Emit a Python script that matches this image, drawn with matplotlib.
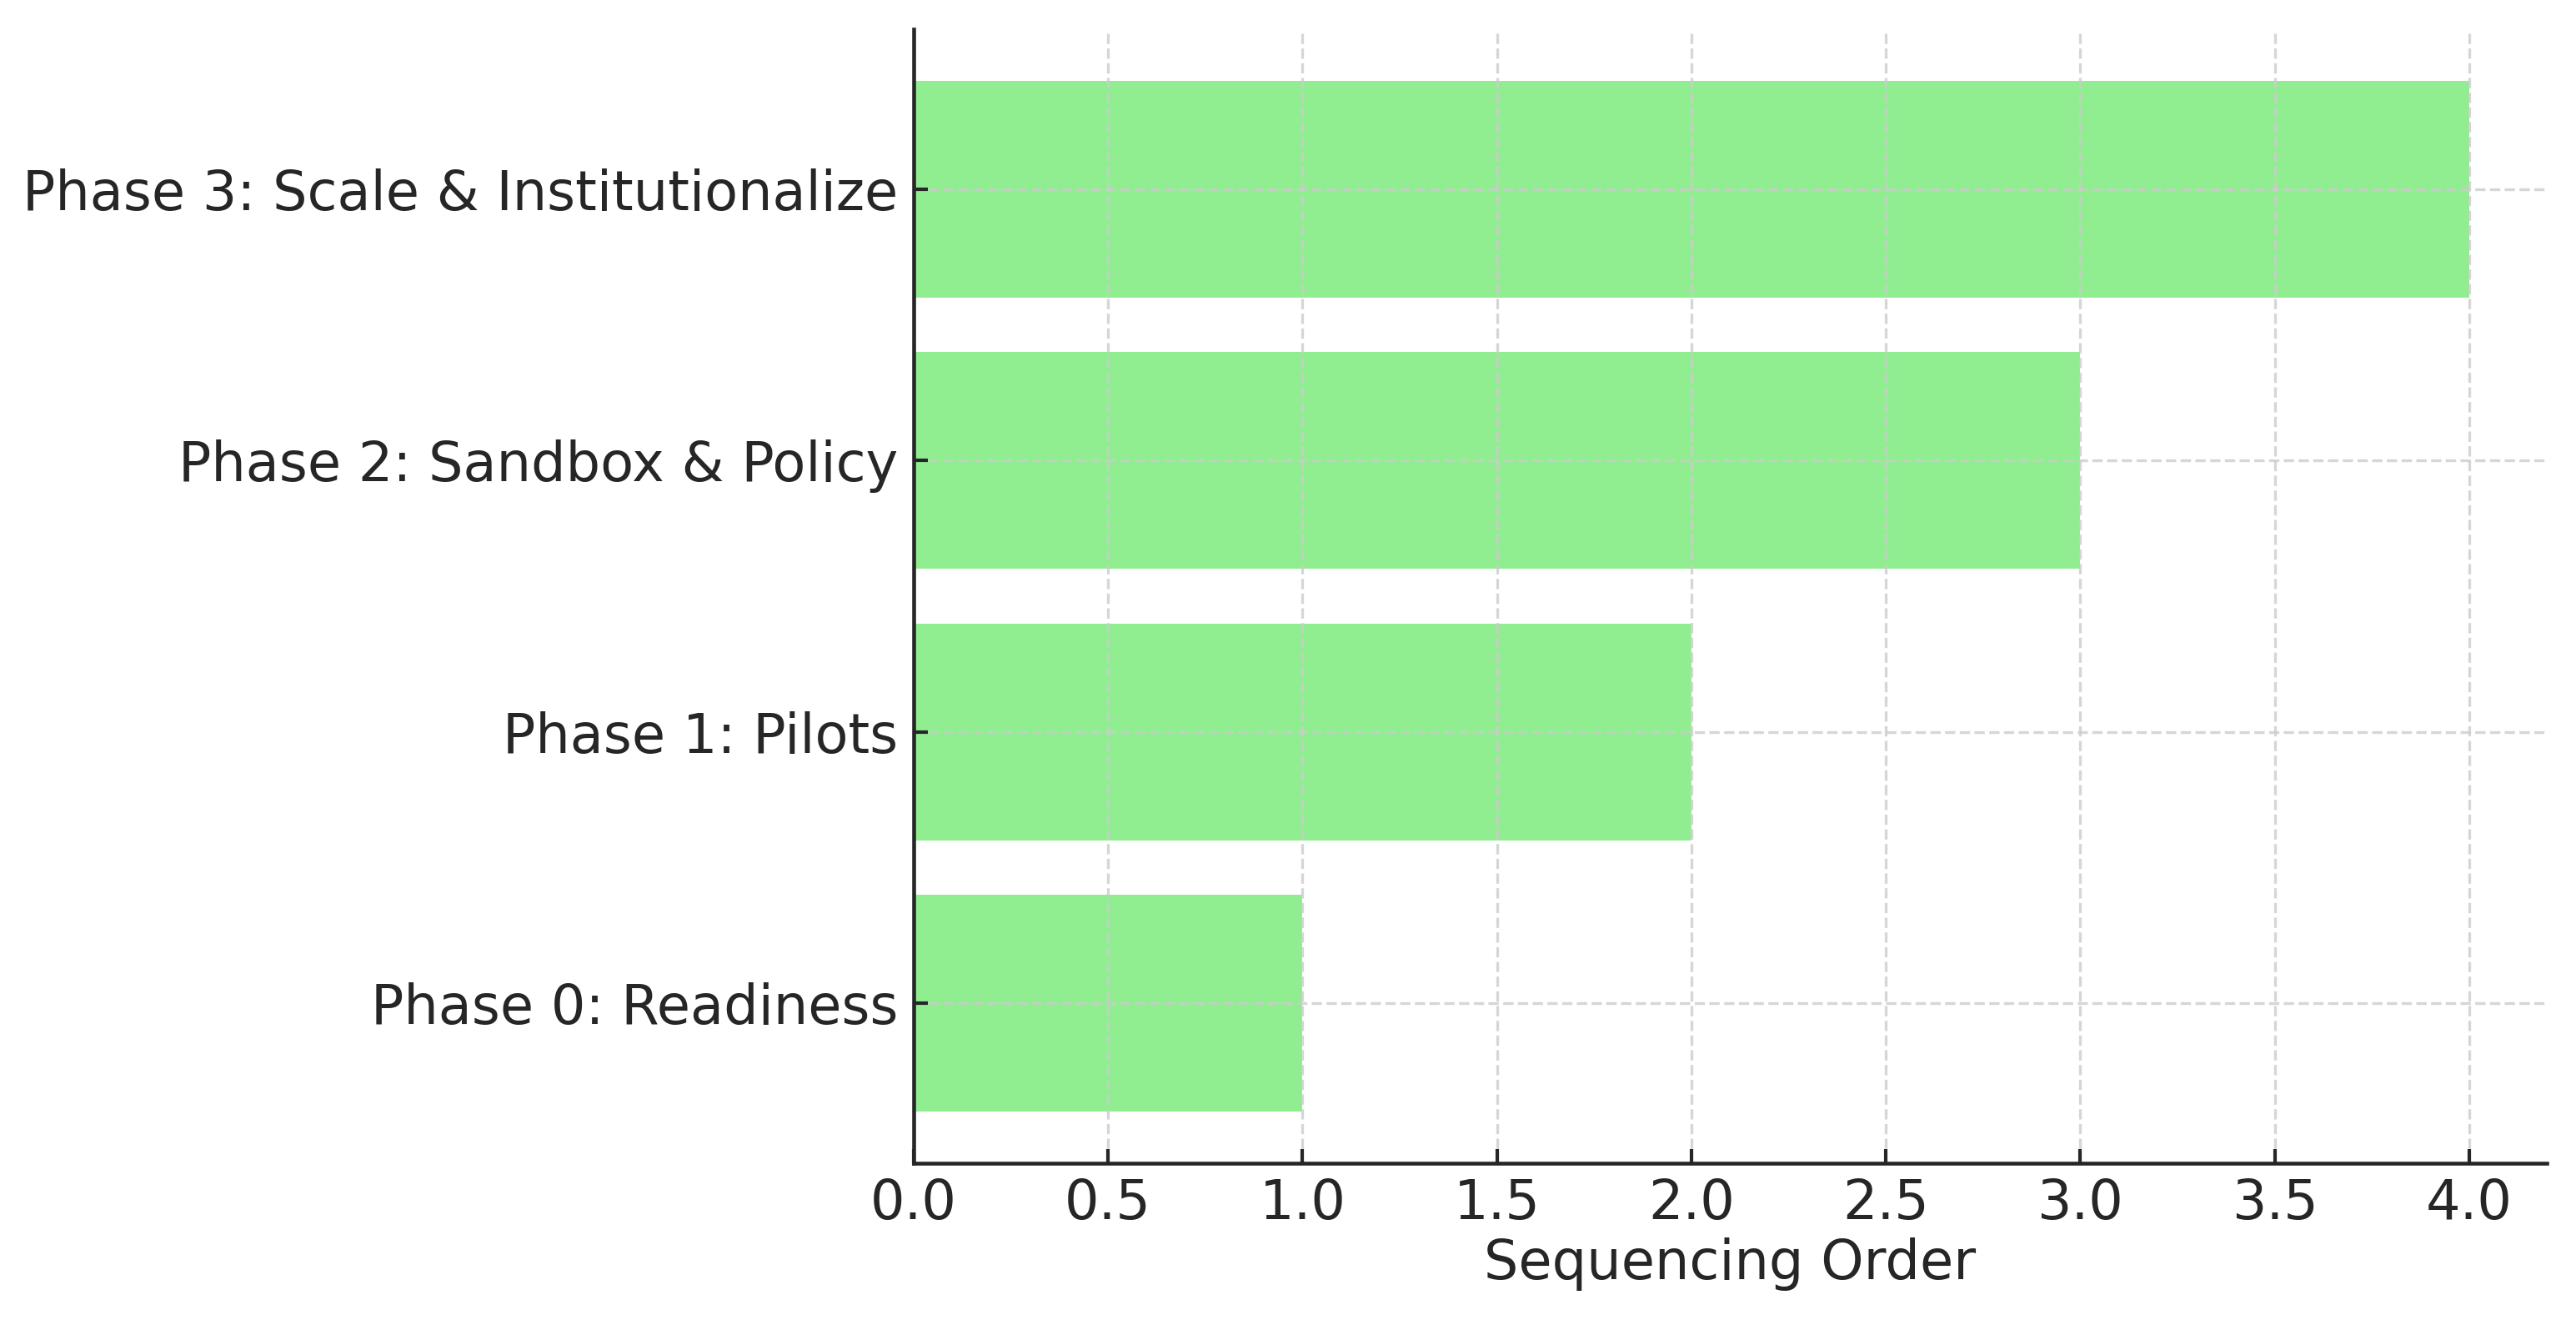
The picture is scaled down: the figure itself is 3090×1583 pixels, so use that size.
import matplotlib
matplotlib.use("Agg")
import matplotlib.pyplot as plt

# phases in bottom-to-top order
phases = ["Phase 0: Readiness", "Phase 1: Pilots",
          "Phase 2: Sandbox & Policy", "Phase 3: Scale & Institutionalize"]
order = [1, 2, 3, 4]

plt.rcParams['font.family'] = ['DejaVu Sans']
plt.rcParams['text.color'] = '#262626'
plt.rcParams['axes.labelcolor'] = '#262626'
plt.rcParams['xtick.color'] = '#262626'
plt.rcParams['ytick.color'] = '#262626'

fig = plt.figure(figsize=(10.3, 1583 / 300), dpi=300)
ax = fig.add_axes([1096 / 3090, 1 - 1395 / 1583, (3055 - 1096) / 3090, (1395 - 35) / 1583])

ax.barh(phases, order, color='lightgreen', height=0.8)
ax.set_xlabel("Sequencing Order", fontsize=15.7, labelpad=2)
ax.tick_params(axis='both', direction='in', labelsize=15.7, width=1, length=4)
ax.tick_params(axis='y', pad=4.5)
ax.tick_params(axis='x', pad=4)
ax.grid(True, linestyle='--', color='#cccccc', alpha=0.8, linewidth=0.8)

for s in ['top', 'right']:
    ax.spines[s].set_visible(False)
for s in ['left', 'bottom']:
    ax.spines[s].set_color('#262626')
    ax.spines[s].set_linewidth(1.1)

fig.savefig("out.png", dpi=300)
